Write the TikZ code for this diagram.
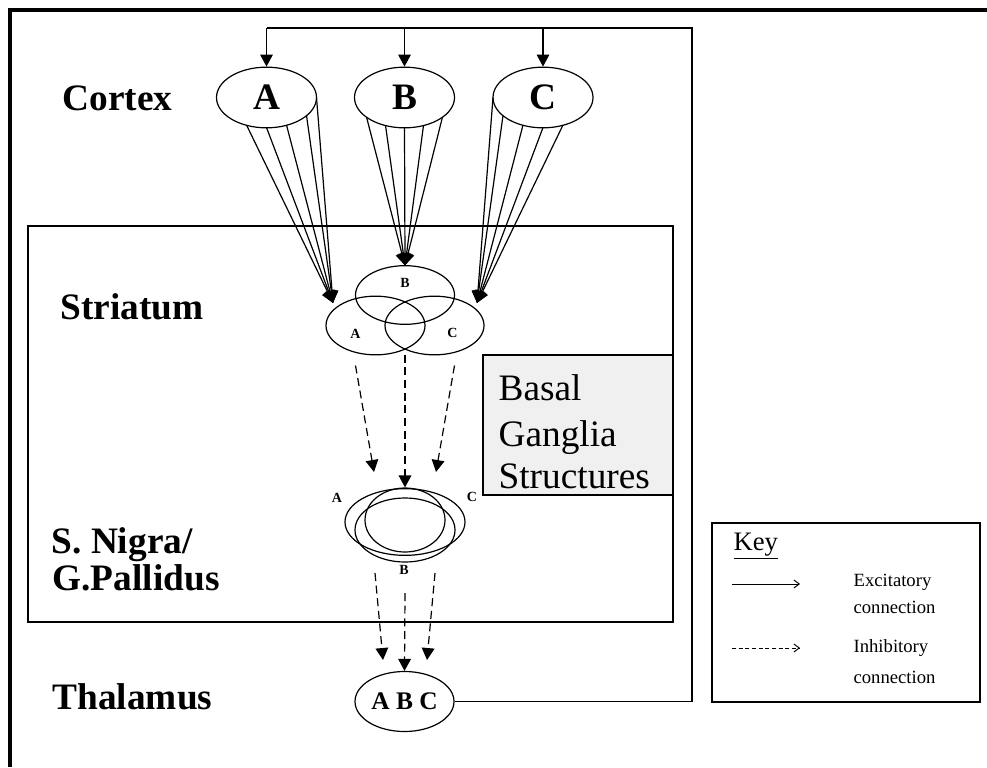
\documentclass[tikz,border=0pt]{standalone}
\usepackage{fontspec}
\setmainfont{Liberation Serif}
\usetikzlibrary{shapes.geometric,arrows.meta,calc}
\begin{document}
\begin{tikzpicture}[x=0.75pt,y=-0.75pt,
  line width=0.9pt,
  region/.style={font=\fontsize{28}{30}\selectfont\bfseries, anchor=west, inner sep=0pt},
  cell/.style={draw, ellipse, inner sep=0pt, line width=0.9pt},
  bigcell/.style={cell, minimum width=75pt, minimum height=45.5pt, font=\fontsize{28}{30}\selectfont\bfseries},
  midcell/.style={cell, minimum width=74.25pt, minimum height=44pt},
  tiny/.style={font=\fontsize{10.5}{12}\selectfont\bfseries, inner sep=0pt},
  keytext/.style={font=\fontsize{14}{16}\selectfont, anchor=west, inner sep=0pt},
  excite/.style={-{Triangle[length=9pt,width=9.5pt]}},
  inhibit/.style={-{Triangle[length=9pt,width=9.5pt]}, dash pattern=on 6pt off 3.5pt},
  bgtext/.style={font=\fontsize{28}{30}\selectfont, anchor=base west, inner sep=0pt}
]
\useasboundingbox (0,0) rectangle (987,767);

% outer frame (top and left edges only)
\draw[line width=2.4pt] (10,767) -- (10,10) -- (987,10);

% basal ganglia enclosure
\draw (28,226) rectangle (673,622);

% region labels
\node[region] (lcortex) at (62,98) {Cortex};
\node[region] (lstriatum) at (60,307) {Striatum};
\node[region] (lnigra) at (51,545) {S. Nigra/};
\node[region] (lpallidus) at (52,578) {G.Pallidus};
\node[region] (lthalamus) at (52,697) {Thalamus};

% cortex populations
\node[bigcell] (cA) at (266.5,97.5) {A};
\node[bigcell] (cB) at (404.5,97.5) {B};
\node[bigcell] (cC) at (543,97.5) {C};

% striatum populations
\node[midcell] (sB) at (405,295) {};
\node[midcell] (sA) at (375.5,325.5) {};
\node[midcell] (sC) at (434.5,325.5) {};
\node[tiny] (sBl) at ($(sB.center)+(0,-12)$) {B};
\node[tiny] (sAl) at ($(sA.center)+(-20,8)$) {A};
\node[tiny] (sCl) at ($(sC.center)+(18,7)$) {C};

% nigra / pallidus populations
\node[cell, minimum width=90pt, minimum height=50pt] (nA) at (405,522) {};
\node[cell, minimum width=75pt, minimum height=48pt] (nB) at (405,530) {};
\node[cell, minimum width=60pt, minimum height=48pt] (nC) at (405,520) {};
\node[tiny] (nAl) at (337,498) {A};
\node[tiny] (nCl) at (472,497) {C};
\node[tiny] (nBl) at (404,570) {B};

% thalamus
\node[cell, minimum width=74.25pt, minimum height=45pt, font=\fontsize{19}{21}\selectfont\bfseries] (th) at (404.5,701.5) {A B C};

% fan-in from cortex to striatum
\coordinate (tipA) at ($(sA.center)+(-42.5,-22.5)$);
\coordinate (tipC) at ($(sC.center)+(42.5,-22.5)$);
\coordinate (tipB) at ($(sB.center)+(0,-29.5)$);
\foreach \d in {-20,0,20,40,50}
  \draw[excite] ($(cA.center)+(\d,{30*sqrt(1-(\d/50)^2)})$) -- (tipA);
\foreach \d in {-50,-40,-20,0,20}
  \draw[excite] ($(cC.center)+(\d,{30*sqrt(1-(\d/50)^2)})$) -- (tipC);
\foreach \d in {-38,-19,0,19,38}
  \draw[excite] ($(cB.center)+(\d,{30*sqrt(1-(\d/50)^2)})$) -- (tipB);

% striatum to nigra/pallidus
\draw[inhibit] ($(sA.center)+(-20,40)$) -- (374,472);
\draw[inhibit] ($(sA.center)!0.5!(sC.center)+(0,29)$) -- (nC.north);
\draw[inhibit] ($(sC.center)+(20,40)$) -- (436,472);

% nigra/pallidus to thalamus
\draw[inhibit] (375,573) -- (383,660);
\draw[inhibit] (405,593) -- (th.north);
\draw[inhibit] (435,573) -- (427,660);

% thalamic feedback to cortex
\coordinate (loopTop) at (692,28);
\draw (th.east) -- (th.east -| loopTop) -- (loopTop) -- (cA.center |- loopTop);
\draw[excite] (cA.center |- loopTop) -- (cA.north);
\draw[excite] (cB.center |- loopTop) -- (cB.north);
\draw[excite] (cC.center |- loopTop) -- (cC.north);

% basal ganglia caption box
\draw[fill=black!6] (483,355) rectangle (673,495);
\node[bgtext] (bg1) at (498,400) {Basal};
\node[bgtext] (bg2) at (498,446) {Ganglia};
\node[bgtext] (bg3) at (498,488) {Structures};

% key
\draw (712,523) rectangle (980,702);
\node[font=\fontsize{20}{22}\selectfont, anchor=west, inner sep=0pt] (key) at (733,546) {\underline{Key}};
\coordinate (k1a) at (732,584);
\coordinate (k1b) at (800,584);
\coordinate (k2a) at (732,648);
\coordinate (k2b) at (800,648);
\draw[line width=0.7pt, -{Straight Barb[length=4pt,width=6pt]}] (k1a) -- (k1b);
\draw[line width=0.7pt, dash pattern=on 3pt off 2pt, -{Straight Barb[length=4pt,width=6pt]}] (k2a) -- (k2b);
\node[keytext] (ex1) at (853,582) {Excitatory};
\node[keytext] (ex2) at (853,607) {connection};
\node[keytext] (in1) at (853,648) {Inhibitory};
\node[keytext] (in2) at (853,677) {connection};
\end{tikzpicture}
\end{document}
